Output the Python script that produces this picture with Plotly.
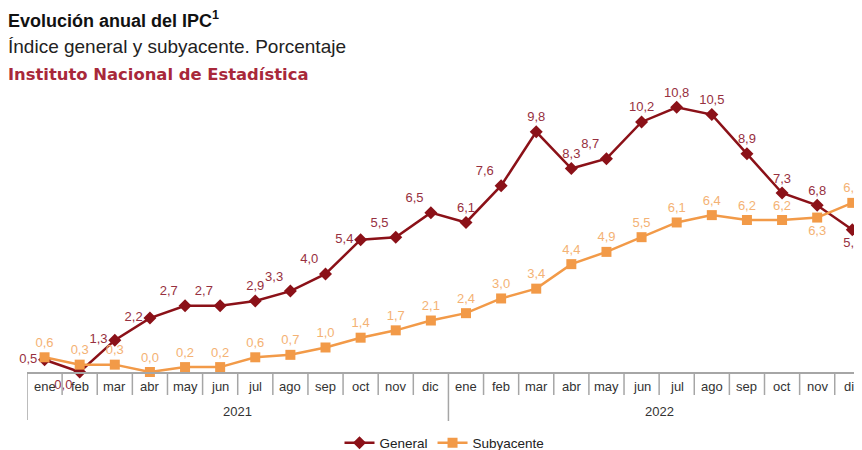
import plotly.graph_objects as go

months = ["ene", "feb", "mar", "abr", "may", "jun", "jul", "ago", "sep", "oct", "nov", "dic"]
years = ["2021", "2022"]
general = [0.5, 0.0, 1.3, 2.2, 2.7, 2.7, 2.9, 3.3, 4.0, 5.4, 5.5, 6.5,
           6.1, 7.6, 9.8, 8.3, 8.7, 10.2, 10.8, 10.5, 8.9, 7.3, 6.8, 5.8]
subyacente = [0.6, 0.3, 0.3, 0.0, 0.2, 0.2, 0.6, 0.7, 1.0, 1.4, 1.7, 2.1,
              2.4, 3.0, 3.4, 4.4, 4.9, 5.5, 6.1, 6.4, 6.2, 6.2, 6.3, 6.9]

n = len(general)
xs = list(range(n))
fmt = lambda v: f"{v:.1f}".replace(".", ",")

gen_pos = ['middle left', 'bottom left', 'middle left', 'middle left', 'top left', 'top left',
           'top center', 'top left', 'top left', 'middle left', 'top left', 'top left',
           'top center', 'top left', 'top center', 'top center', 'top left', 'top center',
           'top center', 'top center', 'top center', 'top center', 'top center', 'bottom center']
sub_pos = ['top center'] * n
sub_pos[22] = 'bottom center'

GEN_C = "#8B1118"
SUB_C = "#F29A48"
FONT = "Liberation Sans, Arial, sans-serif"

fig = go.Figure()
fig.add_trace(go.Scatter(
    x=xs, y=general, name="General", mode="lines+markers+text",
    line=dict(color=GEN_C, width=2.5),
    marker=dict(symbol="diamond", size=10, color=GEN_C),
    text=[fmt(v) for v in general], textposition=gen_pos,
    textfont=dict(family=FONT, size=13, color="#973040"),
    cliponaxis=False,
))
fig.add_trace(go.Scatter(
    x=xs, y=subyacente, name="Subyacente", mode="lines+markers+text",
    line=dict(color=SUB_C, width=2.5),
    marker=dict(symbol="square", size=10, color=SUB_C),
    text=[fmt(v) for v in subyacente], textposition=sub_pos,
    textfont=dict(family=FONT, size=13, color="#F4B274"),
    cliponaxis=False,
))

# the page keeps an 8px body margin (figure starts at page x=8, y=8)
OFF = 8
W, H = 862 - OFF, 450 - OFF
top_page, bottom_page = 95, 372
left_page, unit = 27.45, 35.1
right_page = 862
ph = bottom_page - top_page
def py(pix):
    return (bottom_page - pix) / ph

annotations = []
for i in range(n):
    annotations.append(dict(x=i, y=py(386), xref="x", yref="paper", text=months[i % 12],
                            showarrow=False, yanchor="middle",
                            font=dict(family=FONT, size=13, color="#333333")))
for k, yr in enumerate(years):
    annotations.append(dict(x=k * 12 + 5.5, y=py(411), xref="x", yref="paper", text=yr,
                            showarrow=False, yanchor="middle",
                            font=dict(family=FONT, size=13, color="#333333")))

annotations += [
    dict(x=0, y=py(19), xref="paper", yref="paper", xshift=-21, text="<b>Evolución anual del IPC<sup>1</sup></b>",
         showarrow=False, xanchor="left", yanchor="middle",
         font=dict(family=FONT, size=18, color="#111111")),
    dict(x=0, y=py(47), xref="paper", yref="paper", xshift=-21, text="Índice general y subyacente. Porcentaje",
         showarrow=False, xanchor="left", yanchor="middle",
         font=dict(family=FONT, size=19, color="#222222")),
    dict(x=0, y=py(74), xref="paper", yref="paper", xshift=-21, text="<b>Instituto Nacional de Estadística</b>",
         showarrow=False, xanchor="left", yanchor="middle",
         font=dict(family="DejaVu Sans", size=16.4, color="#A8283A")),
]

shapes = []
LC = "#A6A6A6"
for i in range(n - 1):
    b = i + 0.5
    long = (i % 12 == 11)
    shapes.append(dict(type="line", xref="x", yref="paper", x0=b, x1=b, y0=0,
                       y1=py(421) if long else py(395), line=dict(color=LC, width=1.5)))
shapes.append(dict(type="line", xref="x", yref="paper", x0=-0.5, x1=-0.5, y0=0, y1=py(420),
                   line=dict(color=LC, width=1.5)))

x_hi = -0.5 + (right_page - left_page) / unit

fig.update_layout(
    width=W, height=H,
    margin=dict(l=left_page - OFF, r=0, t=top_page - OFF, b=H - (bottom_page - OFF)),
    paper_bgcolor="white", plot_bgcolor="white",
    xaxis=dict(range=[-0.5, x_hi], showgrid=False, zeroline=False, showticklabels=False,
               ticks="", showline=True, linecolor=LC, linewidth=1.5, fixedrange=True),
    yaxis=dict(range=[0, 11.3], visible=False, fixedrange=True),
    showlegend=True,
    legend=dict(orientation="h", x=0.5, xanchor="center",
                yref="container", y=(H - (443 - OFF)) / H, yanchor="middle",
                font=dict(family=FONT, size=13.5, color="#222222"), bgcolor="rgba(0,0,0,0)"),
    annotations=annotations,
    shapes=shapes,
    font=dict(family=FONT),
)

fig.write_html("out.html")
